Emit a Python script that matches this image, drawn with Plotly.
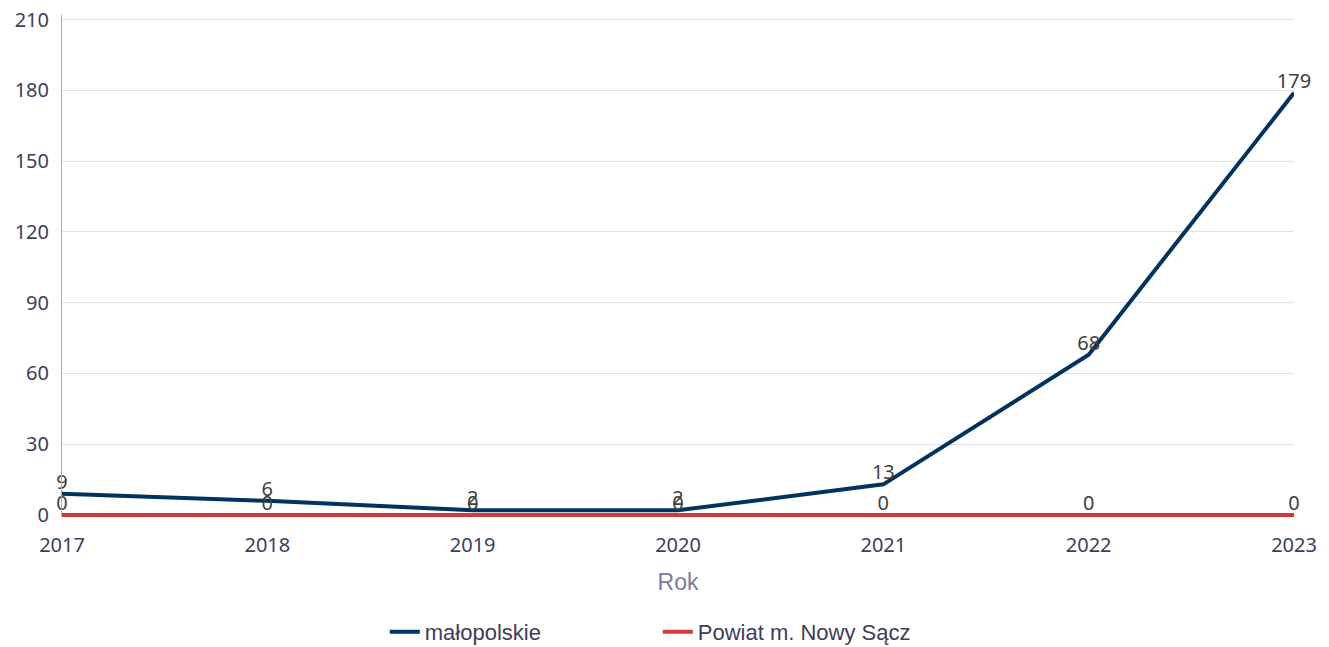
import plotly.graph_objects as go

years = [2017, 2018, 2019, 2020, 2021, 2022, 2023]
malopolskie = [9, 6, 2, 2, 13, 68, 179]
nowy_sacz = [0, 0, 0, 0, 0, 0, 0]
y_ticks = [0, 30, 60, 90, 120, 150, 180, 210]

fig = go.Figure()
fig.add_trace(go.Scatter(
    x=years, y=malopolskie, name="małopolskie", mode="lines+text",
    line=dict(color="#00335f", width=4),
    text=[str(v) for v in malopolskie], textposition="top center",
    textfont=dict(family="Noto Sans", size=20, color="#404040"), cliponaxis=False,
))
fig.add_trace(go.Scatter(
    x=years, y=nowy_sacz, name="Powiat m. Nowy Sącz", mode="lines+text",
    line=dict(color="#d13a3a", width=4),
    text=[str(v) for v in nowy_sacz], textposition="top center",
    textfont=dict(family="Noto Sans", size=20, color="#404040"), cliponaxis=False,
))

fig.update_layout(
    width=1329, height=647,
    margin=dict(l=54, r=43, t=7, b=138, autoexpand=False),
    plot_bgcolor="white", paper_bgcolor="white",
    font=dict(family="Noto Sans", size=20, color="#3d3d5c"),
    showlegend=True,
    legend=dict(orientation="h", x=0.262, xanchor="left", y=-0.229, yanchor="middle",
                font=dict(family="Liberation Sans", size=22, color="#3d3d5c"),
                itemwidth=30, traceorder="normal", entrywidth=228),
    xaxis=dict(
        range=[2017, 2023], tickvals=years, ticktext=[str(y) for y in years],
        showgrid=False, zeroline=False, showline=False,
        ticks="", ticklabelstandoff=14,
        title=dict(text="Rok", font=dict(family="Liberation Sans", size=23, color="#7a7a9e"), standoff=16),
        tickfont=dict(size=20, color="#3d3d5c"),
    ),
    yaxis=dict(
        range=[-0.85, 212], tickvals=y_ticks,
        showgrid=True, gridcolor="#e0e0ef", gridwidth=1,
        zeroline=False, showline=True, linecolor="#a8a8cc", linewidth=1,
        ticks="", ticklabelstandoff=8, ticklabeloverflow="allow",
        tickfont=dict(size=20, color="#3d3d5c"),
    ),
)

fig.write_html("out.html")
